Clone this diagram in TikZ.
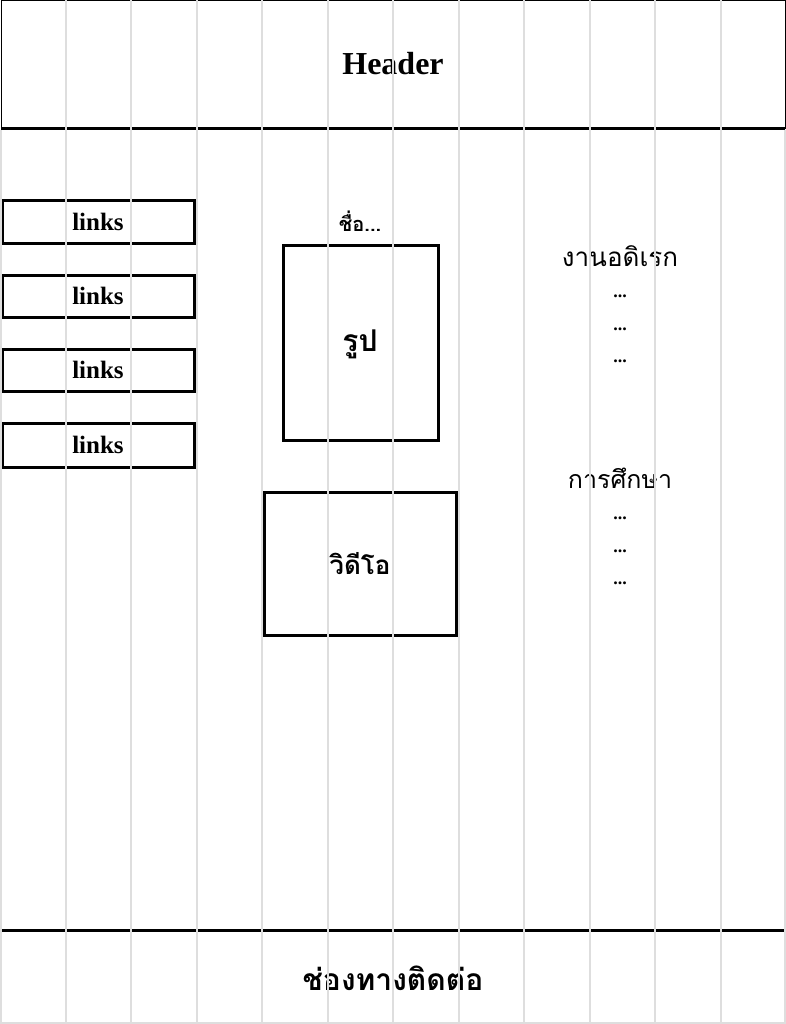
\documentclass[tikz,border=0pt]{standalone}
\usepackage{fontspec}
\setmainfont{Liberation Serif}
\newfontfamily\thaifont[Script=Thai]{Loma}
\begin{document}
\begin{tikzpicture}[x=1pt,y=-1pt,
  band/.style={draw, line width=1pt, rectangle, inner sep=0pt, outer sep=0pt},
  linkbox/.style={draw, line width=3pt, rectangle, inner sep=0pt, outer sep=0pt, minimum width=192pt, minimum height=42pt, font=\bfseries\fontsize{25}{28}\selectfont},
  mediabox/.style={draw, line width=3pt, rectangle, inner sep=0pt, outer sep=0pt},
  thaibold/.style={font=\thaifont\bfseries\fontsize{26}{30}\selectfont},
  thaireg/.style={font=\thaifont\fontsize{26}{30}\selectfont},
  dots/.style={font=\bfseries\fontsize{18}{20}\selectfont},
  gridline/.style={draw=black!13, line width=2pt}]
\useasboundingbox (0,0) rectangle (786,1024);
\fill[white] (0,0) rectangle (786,1024);
% header
\node[band, minimum width=784pt, minimum height=128pt] (header) at (393,65) {};
\draw[line width=3pt] (header.south west) -- (header.south east);
\node[font=\bfseries\fontsize{32}{36}\selectfont] (htext) at (393,64) {Header};
% footer
\node[band, minimum width=784pt, minimum height=100pt] (footer) at (393,980) {};
\draw[line width=3pt] (footer.north west) -- (footer.north east);
\node[font=\thaifont\bfseries\fontsize{30}{34}\selectfont] (ftext) at (393,978) {ช่องทางติดต่อ};
% links
\node[linkbox] (l1) at (98,222) {links};
\node[linkbox] (l2) at (98,296) {links};
\node[linkbox] (l3) at (98,370) {links};
\node[linkbox, minimum height=44pt] (l4) at (98,445) {links};
% photo
\node[font=\thaifont\bfseries\fontsize{20}{24}\selectfont] (name) at (360,221) {ชื่อ...};
\node[mediabox, minimum width=155pt, minimum height=195pt] (photo) at (360.5,342.5) {};
\node[font=\thaifont\bfseries\fontsize{30}{34}\selectfont] (ptext) at (360,344) {รูป};
% video
\node[mediabox, minimum width=192pt, minimum height=143pt] (video) at (360,563.5) {};
\node[thaibold] (vtext) at (video.center) {วิดีโอ};
% right column
\node[thaireg] (hob) at (620,256) {งานอดิเรก};
\node[dots] (h1) at (620,296) {...};
\node[dots] (h2) at (620,329) {...};
\node[dots] (h3) at (620,361) {...};
\node[font=\thaifont\fontsize{25}{30}\selectfont] (edu) at (620,478) {การศึกษา};
\node[dots] (e1) at (620,518) {...};
\node[dots] (e2) at (620,551) {...};
\node[dots] (e3) at (620,583) {...};
% grid
\foreach \i in {1,...,11} \draw[gridline] (\i*65.5,0) -- (\i*65.5,1024);
\draw[gridline] (1,130) -- (1,1024);
\draw[gridline] (785,130) -- (785,1024);
\draw[gridline] (0,1023) -- (786,1023);
\end{tikzpicture}
\end{document}
